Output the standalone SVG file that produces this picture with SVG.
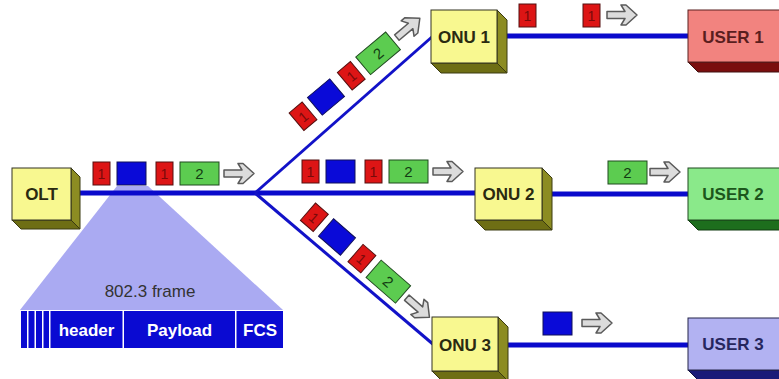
<svg xmlns="http://www.w3.org/2000/svg" xmlns:xlink="http://www.w3.org/1999/xlink" width="779" height="379" viewBox="0 0 779 379">
<style>
text{font-family:"Liberation Sans",Arial,sans-serif;}
.lbl{font-size:17px;font-weight:bold;text-anchor:middle;}
.pr{fill:#dd1515;stroke:#551010;stroke-width:1;}
.pb{fill:#0a0ad8;stroke:#10105a;stroke-width:1;}
.pg{fill:#5ccc50;stroke:#1f4a1f;stroke-width:1;}
.tr{font-size:14px;fill:#7a0a0a;text-anchor:middle;}
.tg{font-size:15px;fill:#123c12;text-anchor:middle;}
.arw{fill:#dcdcdc;stroke:#5a5a5a;stroke-width:1.5;stroke-linejoin:round;}
.thick{stroke:#0a0acc;stroke-width:5;fill:none;}
.thin{stroke:#1212c8;stroke-width:3;fill:none;}
.fr{fill:#0a0ad2;}
.ft{font-size:17px;font-weight:bold;fill:#ffffff;text-anchor:middle;}
</style>
<defs>
<g id="r"><rect class="pr" width="17" height="23"/><text class="tr" x="8.5" y="17">1</text></g>
<g id="b"><rect class="pb" width="29" height="23"/></g>
<g id="gp"><rect class="pg" width="39" height="23"/><text class="tg" x="19.5" y="17">2</text></g>
<path id="ar" class="arw" d="M0,-3.5 H18 L14,-10 H19 L30,0 L19,10 H14 L18,3.5 H0 Z"/>
<g id="pk4">
<use xlink:href="#r" x="0" y="0"/>
<use xlink:href="#b" x="24" y="0"/>
<use xlink:href="#r" x="63" y="0"/>
<use xlink:href="#gp" x="87" y="0"/>
<use xlink:href="#ar" x="131" y="11.5"/>
</g>
</defs>
<rect width="779" height="379" fill="#ffffff"/>

<g id="frame">
<polygon points="117,186 148,186 283,310 20,310" fill="#aaaaf2"/>
<text x="150" y="297" style="font-size:17px;fill:#333333;text-anchor:middle">802.3 frame</text>
<rect class="fr" x="21" y="311" width="6" height="37"/>
<rect class="fr" x="28.5" y="311" width="6" height="37"/>
<rect class="fr" x="36" y="311" width="6" height="37"/>
<rect class="fr" x="43.5" y="311" width="5.5" height="37"/>
<rect class="fr" x="50.5" y="311" width="72" height="37"/>
<rect class="fr" x="124" y="311" width="111" height="37"/>
<rect class="fr" x="236.5" y="311" width="46.5" height="37"/>
<text class="ft" x="86.5" y="336">header</text>
<text class="ft" x="179.5" y="336">Payload</text>
<text class="ft" x="260" y="336">FCS</text>
</g>

<g id="connectors">
<line class="thick" x1="71" y1="193" x2="480" y2="193"/>
<line class="thin" x1="255" y1="193" x2="433" y2="36"/>
<line class="thin" x1="255" y1="193" x2="434" y2="345"/>
<line class="thick" x1="500" y1="36" x2="690" y2="36"/>
<line class="thick" x1="545" y1="194" x2="690" y2="194"/>
<line class="thick" x1="500" y1="345" x2="690" y2="345"/>
</g>

<g id="OLT">
<polygon points="71,168 80,177 80,229 71,220" fill="#8c8c22" stroke="#3a3a10" stroke-width="1"/>
<polygon points="12,220 71,220 80,229 21,229" fill="#6e6e14" stroke="#3a3a10" stroke-width="1"/>
<rect x="12" y="168" width="59" height="52" fill="#f8f890" stroke="#333322" stroke-width="1"/>
<text class="lbl" x="41.5" y="200" fill="#2a2a10">OLT</text>
</g>

<g id="ONU1">
<polygon points="497,10 507,20 507,73 497,63" fill="#8c8c22" stroke="#3a3a10" stroke-width="1"/>
<polygon points="431,63 497,63 507,73 441,73" fill="#6e6e14" stroke="#3a3a10" stroke-width="1"/>
<rect x="431" y="10" width="66" height="53" fill="#f8f890" stroke="#333322" stroke-width="1"/>
<text class="lbl" x="464" y="43" fill="#2a2a10">ONU 1</text>
</g>

<g id="ONU2">
<polygon points="542,168 552,178 552,230 542,220" fill="#8c8c22" stroke="#3a3a10" stroke-width="1"/>
<polygon points="475,220 542,220 552,230 485,230" fill="#6e6e14" stroke="#3a3a10" stroke-width="1"/>
<rect x="475" y="168" width="67" height="52" fill="#f8f890" stroke="#333322" stroke-width="1"/>
<text class="lbl" x="508.5" y="200" fill="#2a2a10">ONU 2</text>
</g>

<g id="ONU3">
<polygon points="498,317 508,327 508,381 498,371" fill="#8c8c22" stroke="#3a3a10" stroke-width="1"/>
<polygon points="432,371 498,371 508,381 442,381" fill="#6e6e14" stroke="#3a3a10" stroke-width="1"/>
<rect x="432" y="317" width="66" height="54" fill="#f8f890" stroke="#333322" stroke-width="1"/>
<text class="lbl" x="465" y="351" fill="#2a2a10">ONU 3</text>
</g>

<g id="USER1">
<polygon points="688,62 800,62 810,72 698,72" fill="#7a0e0e" stroke="#401010" stroke-width="1"/>
<rect x="688" y="10" width="112" height="52" fill="#f2837f" stroke="#5a2020" stroke-width="1"/>
<text class="lbl" x="733" y="43" fill="#5a1e1e">USER 1</text>
</g>

<g id="USER2">
<polygon points="688,220 800,220 810,230 698,230" fill="#1d6e1d" stroke="#103a10" stroke-width="1"/>
<rect x="688" y="168" width="112" height="52" fill="#8ae98a" stroke="#1f4a1f" stroke-width="1"/>
<text class="lbl" x="733" y="200" fill="#1c561c">USER 2</text>
</g>

<g id="USER3">
<polygon points="688,370 800,370 810,380 698,380" fill="#1a1a78" stroke="#101040" stroke-width="1"/>
<rect x="688" y="318" width="112" height="52" fill="#b2b2f2" stroke="#25254a" stroke-width="1"/>
<text class="lbl" x="733" y="350" fill="#26265e">USER 3</text>
</g>

<g id="packets">
<use xlink:href="#pk4" transform="translate(93,162)"/>
<use xlink:href="#pk4" transform="translate(302,160)"/>
<use xlink:href="#pk4" transform="translate(326,97) rotate(-40) translate(-38.5,-11.5)"/>
<use xlink:href="#pk4" transform="translate(337,237) rotate(41) translate(-38.5,-11.5)"/>
<use xlink:href="#r" x="519" y="4"/>
<use xlink:href="#r" x="583" y="4"/>
<use xlink:href="#ar" x="607" y="15"/>
<use xlink:href="#gp" x="608" y="161"/>
<use xlink:href="#ar" x="650" y="172"/>
<use xlink:href="#b" x="543" y="312"/>
<use xlink:href="#ar" x="582" y="323"/>
</g>
</svg>
